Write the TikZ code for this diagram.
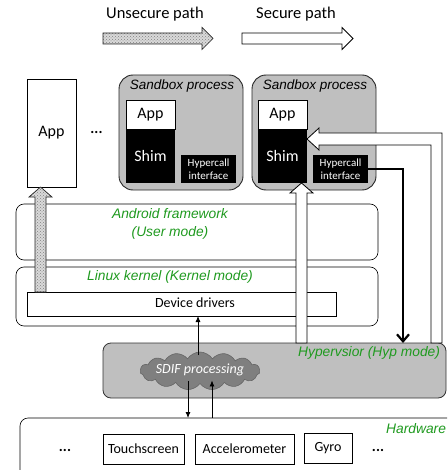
\documentclass[tikz,border=0pt]{standalone}
\usepackage{fontspec}
\setmainfont{Carlito}
\newfontfamily\arialfont{Liberation Sans}
\usetikzlibrary{shapes.symbols,patterns,arrows.meta,calc}

\definecolor{boxgray}{HTML}{BFBFBF}
\definecolor{cloudgray}{HTML}{7F7F7F}
\definecolor{layergreen}{HTML}{1F9A1F}

% fat horizontal arrow: style, tail point, tip point (same height)
\newcommand\hfatarrow[3]{\draw[#1] ($(#2)+(0,-5.5)$) -- ($(#3)+(-11,-5.5)$)
  -- ($(#3)+(-11,-11)$) -- (#3) -- ($(#3)+(-11,11)$) -- ($(#3)+(-11,5.5)$)
  -- ($(#2)+(0,5.5)$) -- cycle;}
% fat upward arrow: style, column coordinate, tail anchor, tip anchor
\newcommand\vfatarrow[4]{\draw[#1] ($(#2 |- #3)+(-5.5,0)$) -- ($(#2 |- #4)+(-5.5,10)$)
  -- ($(#2 |- #4)+(-11.5,10)$) -- (#2 |- #4) -- ($(#2 |- #4)+(11.5,10)$)
  -- ($(#2 |- #4)+(5.5,10)$) -- ($(#2 |- #3)+(5.5,0)$) -- cycle;}

\begin{document}
\begin{tikzpicture}[x=1pt,y=-1pt,
  every node/.style={inner sep=0pt,outer sep=0pt},
  txt/.style={font=\fontsize{14}{16}\selectfont},
  bigtxt/.style={font=\fontsize{16}{18}\selectfont},
  legendtxt/.style={font=\fontsize{16.5}{18}\selectfont},
  layerlbl/.style={text=layergreen,font=\arialfont\itshape\fontsize{13.8}{18}\selectfont},
  sbtitle/.style={font=\arialfont\itshape\fontsize{13.5}{16}\selectfont},
  plainbox/.style={draw=black,line width=0.6pt,fill=white},
  layerbox/.style={draw=black,line width=0.6pt,fill=white,rounded corners=8pt},
  sandbox/.style={draw=black!85,line width=0.9pt,fill=boxgray,rounded corners=14pt,
    minimum width=124pt,minimum height=115pt},
  appbox/.style={plainbox,bigtxt,minimum width=49pt,minimum height=29pt},
  shimbox/.style={fill=black,text=white,bigtxt,minimum width=49pt,minimum height=53pt},
  hcbox/.style={fill=black,text=white,align=center,font=\fontsize{11}{13}\selectfont,
    minimum width=55pt,minimum height=28pt},
  hwbox/.style={plainbox,txt,minimum height=30pt},
  unsecure/.style={draw=black!85,line width=0.7pt,preaction={fill=gray!30},
    pattern=crosshatch dots,pattern color=gray},
  secure/.style={draw=black,line width=0.8pt,fill=white},
  sig/.style={draw=black,line width=0.8pt,-{Latex[length=6pt,width=5pt]}},
  hypcall/.style={draw=black,line width=2.2pt,-{Straight Barb[length=7pt,width=12pt]}},
  dots/.style={font=\bfseries\fontsize{15}{16}\selectfont}
]
\useasboundingbox (0,0) rectangle (447,470);
\clip (0,0) rectangle (447,470);

% legend
\node[legendtxt] (ulegend) at (155,14) {Unsecure path};
\node[legendtxt] (slegend) at (296,14) {Secure path};
\coordinate (ut) at (103,38.5);
\coordinate (uh) at (213,38.5);
\coordinate (st) at (242,38.5);
\coordinate (sh) at (353,38.5);
\hfatarrow{unsecure}{ut}{uh}
\hfatarrow{secure}{st}{sh}

% applications and sandboxes
\node[plainbox,bigtxt,minimum width=49pt,minimum height=108pt] (app0) at (51.5,133) {App};
\node[dots] (appdots) at (96.5,132) {...};

\node[sandbox] (sb1) at (181,132.5) {};
\node[sbtitle] (sbt1) at ($(sb1.north)+(1,11)$) {Sandbox process};
\node[appbox] (app1) at (150.5,114.5) {App};
\node[shimbox] (shim1) at (150.5,156.5) {Shim};
\node[hcbox] (hc1) at (208.5,169) {Hypercall\\interface};

\node[sandbox] (sb2) at (314,132.5) {};
\node[sbtitle] (sbt2) at ($(sb2.north)+(1,11)$) {Sandbox process};
\node[appbox] (app2) at (282.5,114.5) {App};
\node[shimbox] (shim2) at (282.5,156.5) {Shim};
\node[hcbox] (hc2) at (340.5,169) {Hypercall\\interface};

% software layers
\node[layerbox,minimum width=362pt,minimum height=56pt] (android) at (197,232) {};
\node[layerlbl,align=center] (androidlbl) at (170,224) {Android framework\\(User mode)};
\node[layerbox,minimum width=362pt,minimum height=59pt] (linux) at (197,296.5) {};
\node[layerlbl] (linuxlbl) at (170,277) {Linux kernel (Kernel mode)};
\node[plainbox,minimum width=309pt,minimum height=24pt] (drivers) at (181.5,304) {};
\node[txt] (driverslbl) at (195,303) {Device drivers};

% hypervisor
\node[draw=black!80,line width=0.8pt,fill=boxgray,rounded corners=8pt,
  minimum width=343pt,minimum height=55pt] (hyp) at (274.5,370.5) {};
\node[layerlbl,anchor=east] (hyplbl) at (440,353) {Hypervsior (Hyp mode)};
\node[cloud,cloud puffs=15,cloud puff arc=115,aspect=3.2,fill=cloudgray,draw=black!60,
  line width=0.6pt,minimum width=120pt,minimum height=38pt] (sdif) at (200,371) {};
\node[text=white,font=\itshape\fontsize{14}{16}\selectfont] (sdiflbl) at (200,370) {SDIF processing};

% hardware
\node[layerbox,minimum width=450pt,minimum height=72pt] (hw) at (245,454) {};
\node[layerlbl,anchor=east] (hwlbl) at (446,429) {Hardware};
\node[dots] (hwdots1) at (65,450) {...};
\node[hwbox,minimum width=81pt] (touch) at (143.5,449) {Touchscreen};
\node[hwbox,minimum width=99pt] (accel) at (244.5,449) {Accelerometer};
\node[hwbox,minimum width=48pt] (gyro) at (328,448) {Gyro};
\node[dots] (hwdots2) at (378,450) {...};

% signal paths between hardware, hypervisor and drivers
\coordinate (cup) at (198,0);
\coordinate (cdown) at (188,0);
\coordinate (cin) at (212,0);
\draw[sig] ($(cup |- sdif.north)+(0,3)$) -- (cup |- drivers.south);
\draw[sig] ($(cdown |- sdif.south)+(0,-2)$) -- (cdown |- hw.north);
\draw[sig] (cin |- hw.north) -- ($(cin |- sdif.south)+(0,-3)$);

% unsecure path: drivers up to the plain app
\coordinate (ux) at (40.5,0);
\vfatarrow{unsecure}{ux}{drivers.north}{app0.south}

% secure path: hypervisor up to the shim
\coordinate (sx) at (301.5,0);
\vfatarrow{secure}{sx}{hyp.north}{shim2.south}

% secure return path into the shim from the right
\coordinate (sT) at ($(shim2.north east)+(0,9)$);
\coordinate (sO) at ($(sT)+(135,0)$);
\coordinate (sI) at ($(sT)+(124,0)$);
\draw[secure] (sT) -- ($(sT)+(12,-11)$) -- ($(sT)+(12,-6)$) -- ($(sO)+(0,-6)$)
  -- (sO |- hyp.north) -- (sI |- hyp.north) -- ($(sI)+(0,6)$) -- ($(sT)+(12,6)$)
  -- ($(sT)+(12,11)$) -- cycle;

% hypercall into the hypervisor
\coordinate (bx) at (403,0);
\draw[hypcall] (hc2.east) -- (hc2.east -| bx) -- (bx |- hyp.north);
\end{tikzpicture}
\end{document}
